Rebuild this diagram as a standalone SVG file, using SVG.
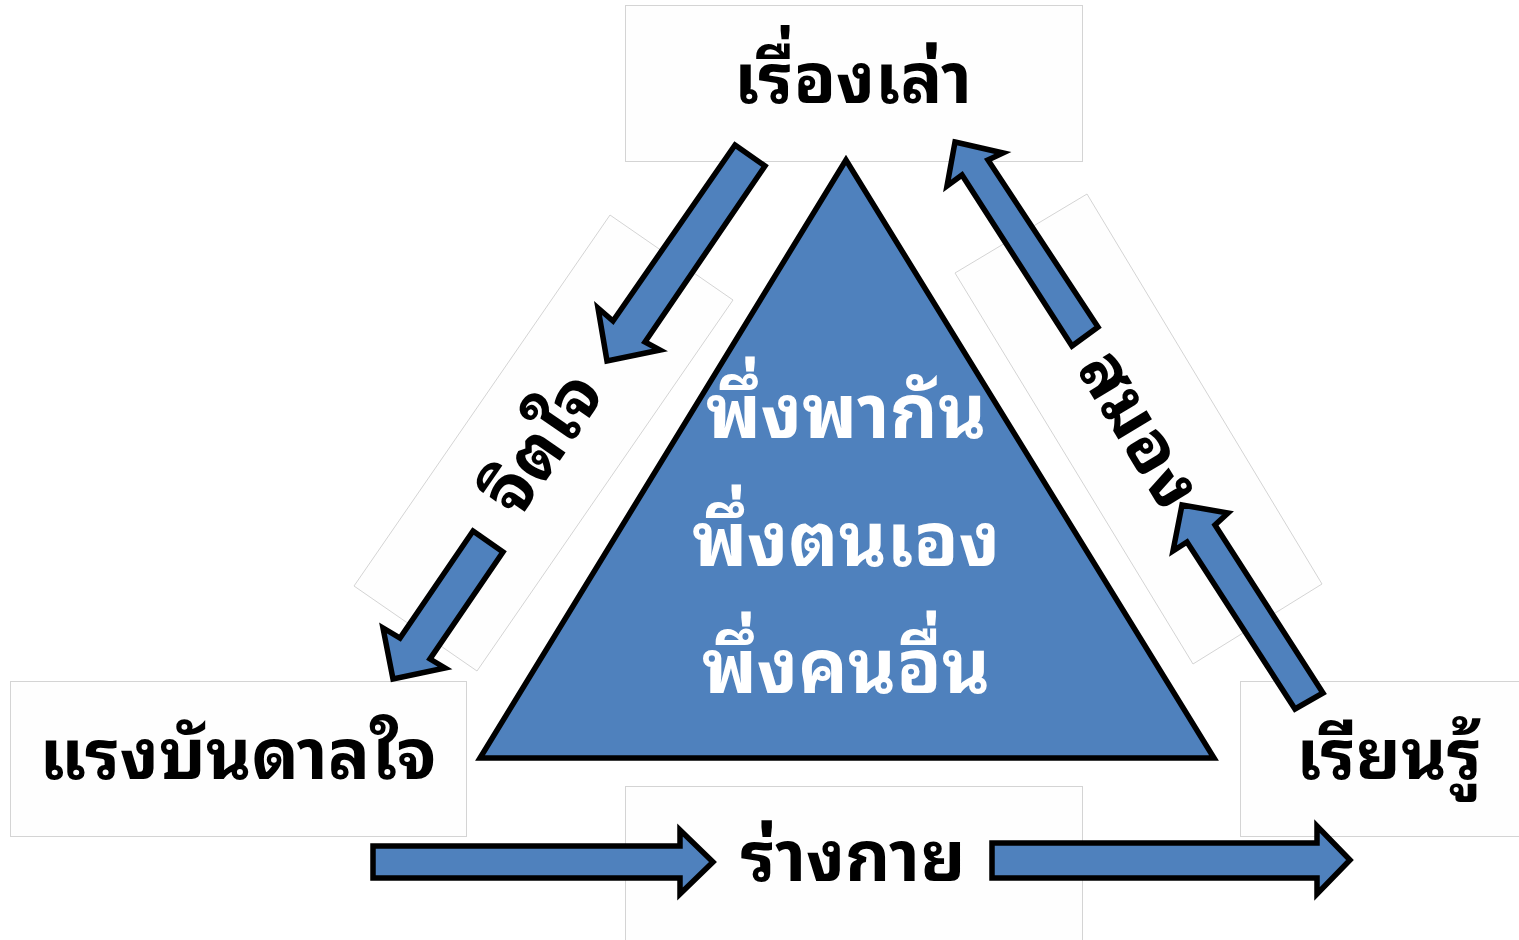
<svg xmlns="http://www.w3.org/2000/svg" width="1519" height="940" viewBox="0 0 1519 940">
<defs>
<style>
.box{fill:#fefefe;stroke:#d4d4d4;stroke-width:1}
.arrow{fill:#4f81bd;stroke:#000;stroke-width:5.5;stroke-linejoin:miter}
.lbl{font-family:"Noto Sans Thai Looped","Loma","Garuda","Tahoma","Noto Sans Thai","Noto Sans",sans-serif;font-size:70px;font-weight:bold;fill:#000;text-anchor:middle}
.ctr{font-family:"Noto Sans Thai Looped","Loma","Garuda","Tahoma","Noto Sans Thai","Noto Sans",sans-serif;font-size:74px;font-weight:bold;fill:#fff;text-anchor:middle}
</style>
</defs>
<rect width="1519" height="940" fill="#fff"/>
<g id="node-top">
<rect class="box" x="625.5" y="5.5" width="457" height="156"/>
<text class="lbl" x="853" y="103">เรื่องเล่า</text>
</g>
<g id="node-left">
<rect class="box" x="10.5" y="681.5" width="456" height="155"/>
<text class="lbl" x="238" y="779">แรงบันดาลใจ</text>
</g>
<g id="node-right">
<rect class="box" x="1240.5" y="681.5" width="290" height="155"/>
<text class="lbl" x="1389" y="779">เรียนรู้</text>
</g>
<g id="node-bottom">
<rect class="box" x="625.5" y="786.5" width="457" height="170"/>
<text class="lbl" x="853" y="881">ร่างกาย</text>
</g>
<g id="node-left-side">
<polygon class="box" points="610,215 733,300 477,671 354,586"/>
<text class="lbl" transform="translate(543,443) rotate(-55.4)" x="0" y="24">จิตใจ</text>
</g>
<g id="node-right-side">
<polygon class="box" points="1087,194 1322,584 1193,664 955,273"/>
<text class="lbl" transform="translate(1140,429) rotate(58.9)" x="0" y="24">สมอง</text>
</g>
<g id="node-center">
<polygon points="846,160 480,758 1214,758" fill="#4f81bd" stroke="#000" stroke-width="5.5" stroke-linejoin="miter"/>
<text class="ctr" x="846" y="438">พึ่งพากัน</text>
<text class="ctr" x="846" y="566">พึ่งตนเอง</text>
<text class="ctr" x="846" y="693">พึ่งคนอื่น</text>
</g>
<g id="connectors">
<polygon class="arrow" points="735,145 765,166 645,342 660,350 607,361 598,308 613,321"/>
<polygon class="arrow" points="473,531 503,552 430,659 445,668 393,679 383,628 400,638"/>
<polygon class="arrow" points="955,142 1003,153 988,160 1098,327 1072,346 962,175 947,186"/>
<polygon class="arrow" points="1182,505 1228,513 1215,525 1323,693 1295,709 1187,542 1173,551"/>
<polygon class="arrow" points="373,846 680,846 680,830 713,862 680,894 680,878 373,878"/>
<polygon class="arrow" points="992,843 1317,843 1317,826 1350,860 1317,894 1317,878 992,878"/>
</g>
</svg>
